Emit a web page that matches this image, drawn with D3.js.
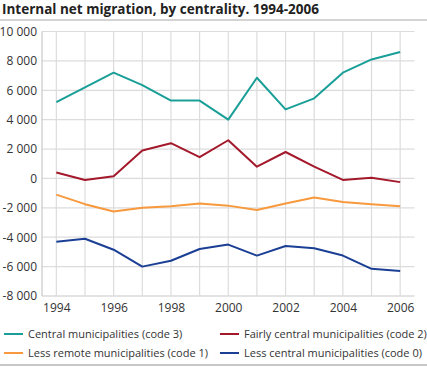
<!DOCTYPE html>
<html><head><meta charset="utf-8">
<script src="https://cdn.jsdelivr.net/npm/d3@7"></script>
<style>body{margin:0;background:#fff}svg{display:block}text{font-family:"Open Sans",sans-serif}</style>
</head><body><svg id="c" width="427" height="367"></svg>
<script>
const years = [1994,1995,1996,1997,1998,1999,2000,2001,2002,2003,2004,2005,2006];
const central = [5200,6200,7200,6350,5300,5300,4000,6850,4700,5450,7200,8100,8600];
const fairlyCentral = [400,-100,150,1900,2400,1450,2600,800,1800,800,-100,50,-250];
const lessRemote = [-1100,-1750,-2250,-2000,-1900,-1700,-1850,-2150,-1700,-1300,-1600,-1750,-1900];
const lessCentral = [-4300,-4100,-4850,-6000,-5600,-4800,-4500,-5250,-4600,-4750,-5250,-6150,-6300];
const yTicks = [-8000,-6000,-4000,-2000,0,2000,4000,6000,8000,10000];
const xTickLabels = [1994,1996,1998,2000,2002,2004,2006];
const seriesNames = ["Central municipalities (code 3)","Fairly central municipalities (code 2)","Less remote municipalities (code 1)","Less central municipalities (code 0)"];
const seriesData = [central, fairlyCentral, lessRemote, lessCentral];
const colors = ["#1a9f98","#a3192b","#f7993c","#1b3f94"];

const svg = d3.select("#c");
const x = d3.scaleLinear().domain([1993.5,2006.5]).range([42,414.5]);
const y = d3.scaleLinear().domain([-8000,10000]).range([296,31.5]);
const fmt = v => d3.format(",")(v).replace(/,/g," ").replace("−","-");

svg.append("text").attr("x",2).attr("y",14).attr("font-size",13.5).attr("font-weight","bold").attr("fill","#222")
  .text("Internal net migration, by centrality. 1994-2006");
svg.append("rect").attr("x",0).attr("y",19).attr("width",427).attr("height",2).attr("fill","#d4d4d4");
svg.append("rect").attr("x",0).attr("y",364).attr("width",427).attr("height",2).attr("fill","#c8c8c8");

// grid
const g = svg.append("g");
g.selectAll(".hg").data(yTicks).join("line").attr("x1",42).attr("x2",414.5)
  .attr("y1",d=>y(d)).attr("y2",d=>y(d)).attr("stroke",d=>d===-8000?"#c8c8c8":"#dcdcdc").attr("stroke-width",1.2);
g.selectAll(".vg").data(years).join("line").attr("y1",y(10000)).attr("y2",y(-8000))
  .attr("x1",d=>x(d)).attr("x2",d=>x(d)).attr("stroke","#dcdcdc").attr("stroke-width",1.2);
g.append("line").attr("x1",42).attr("x2",42).attr("y1",y(10000)).attr("y2",y(-8000)).attr("stroke","#c8c8c8").attr("stroke-width",1.2);

// axes labels
const yAxis = d3.axisLeft(y).tickValues(yTicks).tickSize(0).tickPadding(5).tickFormat(fmt);
const ya = svg.append("g").attr("transform","translate(42,0)").call(yAxis);
ya.select(".domain").remove();
ya.selectAll("text").attr("font-size",12).attr("fill","#333").attr("font-family","'Open Sans',sans-serif");
const xAxis = d3.axisBottom(x).tickValues(xTickLabels).tickSize(0).tickPadding(7).tickFormat(d3.format("d"));
const xa = svg.append("g").attr("transform","translate(0,296)").call(xAxis);
xa.select(".domain").remove();
xa.selectAll("text").attr("font-size",12).attr("fill","#333").attr("font-family","'Open Sans',sans-serif");

// lines
const line = d3.line().x((d,i)=>x(years[i])).y(d=>y(d));
svg.selectAll(".s").data(seriesData).join("path").attr("d",line).attr("fill","none")
  .attr("stroke",(d,i)=>colors[i]).attr("stroke-width",2).attr("stroke-linejoin","round");

// legend
const lg = svg.append("g");
const pos = [[4,334],[220,334],[4,353],[220,353]];
seriesNames.forEach((n,i)=>{
  const [lx,ly] = pos[i];
  lg.append("line").attr("x1",lx).attr("x2",lx+19).attr("y1",ly).attr("y2",ly).attr("stroke",colors[i]).attr("stroke-width",2);
  lg.append("text").attr("x",lx+24).attr("y",ly+4).attr("font-size",11).attr("fill","#333").text(n);
});
</script></body></html>
